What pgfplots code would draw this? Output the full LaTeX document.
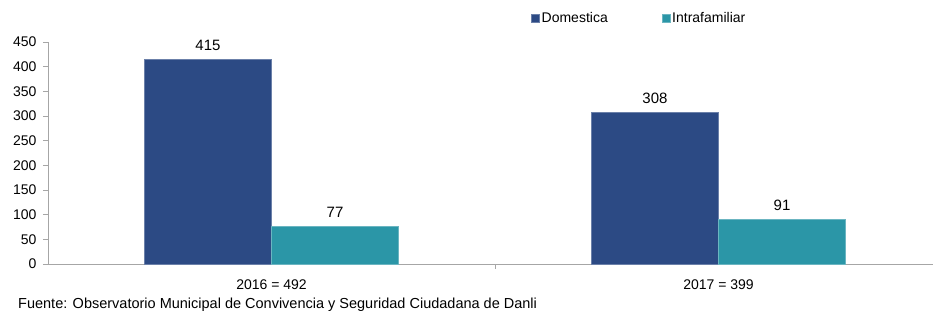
\documentclass[border=0pt]{standalone}
\usepackage{fontspec}
\setmainfont{Liberation Sans}
\usepackage{pgfplots}
\pgfplotsset{compat=1.18}
\definecolor{dom}{HTML}{2C4A84}
\definecolor{intra}{HTML}{2B96A7}
\definecolor{axgray}{HTML}{A6A6A6}
\begin{document}
\begin{tikzpicture}[x=1pt,y=1pt,font=\fontsize{14}{16}\selectfont]
\useasboundingbox (0,0) rectangle (933,312);
\begin{axis}[
 at={(48pt,48pt)}, anchor=south west,
 scale only axis, width=894pt, height=222pt,
 ybar=0pt, bar width=127pt,
 xmin=-0.5, xmax=1.5, ymin=0, ymax=450,
 axis x line=bottom, axis y line=left,
 axis line style={-, axgray, line width=0.8pt},
 tick align=outside, major tick length=5pt,
 tick style={axgray, line width=0.8pt},
 xtick={0.5}, xticklabels={},
 extra x ticks={0,1}, extra x tick labels={2016 = 492, 2017 = 399},
 extra x tick style={major tick length=0pt, xticklabel style={yshift=-12pt}},
 ytick={0,50,...,450},
 /pgf/number format/assume math mode=true,
 yticklabel style={font=\fontsize{14}{16}\selectfont, xshift=-3pt},
 xticklabel style={font=\fontsize{14}{16}\selectfont},
 nodes near coords,
 every node near coord/.append style={font=\fontsize{15}{17}\selectfont, black, yshift=5pt},
 legend style={at={(0.537,1.108)}, anchor=west, draw=none, fill=none,
   font=\fontsize{14}{16}\selectfont, legend columns=2,
   /tikz/every even column/.append style={column sep=52pt}},
 legend image code/.code={\fill[#1] (0pt,-4pt) rectangle (8pt,4pt);},
 clip=false,
]
\addplot[fill=dom, draw=dom!70!white] coordinates {(0,415) (1,308)};
\addplot[fill=intra, draw=intra!70!white] coordinates {(0,77) (1,91)};
\legend{Domestica, Intrafamiliar}
\end{axis}
\node[anchor=west, inner sep=0pt, font=\fontsize{14.5}{16}\selectfont] at (18,7) {Fuente: Observatorio Municipal de Convivencia y Seguridad Ciudadana de Danli};
\end{tikzpicture}
\end{document}
